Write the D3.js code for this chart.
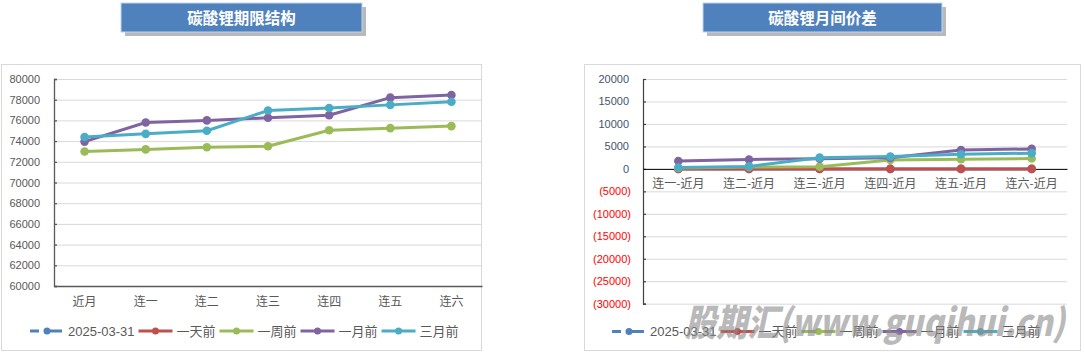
<!DOCTYPE html>
<html>
<head>
<meta charset="utf-8">
<script src="https://cdn.jsdelivr.net/npm/d3@7"></script>
<style>
  body { margin: 0; background: #fff; }
  svg text { font-family: "Liberation Sans", "Noto Sans CJK SC", sans-serif; }
</style>
</head>
<body>
<div id="my_dataviz"></div>
<script>
// data
const seriesNames = ["2025-03-31", "一天前", "一周前", "一月前", "三月前"];
const seriesColors = ["#4F81BD", "#C0504D", "#9BBB59", "#8064A2", "#4BACC6"];

// left chart: term structure
const termCats = ["近月", "连一", "连二", "连三", "连四", "连五", "连六"];
const termToday = [null, null, null, null, null, null, null];
const termDay = [null, null, null, null, null, null, null];
const termWeek = [73000, 73200, 73400, 73500, 75050, 75250, 75450];
const termMonth = [73950, 75800, 76000, 76250, 76500, 78200, 78450];
const termQuarter = [74400, 74700, 75000, 76950, 77200, 77500, 77800];
const termTicks = [60000, 62000, 64000, 66000, 68000, 70000, 72000, 74000, 76000, 78000, 80000];

// right chart: spreads vs near month
const spreadCats = ["连一-近月", "连二-近月", "连三-近月", "连四-近月", "连五-近月", "连六-近月"];
const spreadToday = [0, 0, 0, 0, 0, 0];
const spreadDay = [0, 0, 0, 0, 0, 0];
const spreadWeek = [200, 400, 500, 2000, 2150, 2300];
const spreadMonth = [1750, 2100, 2250, 2500, 4200, 4450];
const spreadQuarter = [300, 550, 2500, 2750, 3250, 3500];
const spreadTicks = [-30000, -25000, -20000, -15000, -10000, -5000, 0, 5000, 10000, 15000, 20000];

const width = 1085, height = 354;

const svg = d3.select("#my_dataviz")
  .append("svg")
    .attr("width", width)
    .attr("height", height);

// title box with drop shadow
function titleBox(x, w, label) {
  const g = svg.append("g");
  g.append("rect")
    .attr("x", x + 4).attr("y", 7).attr("width", w).attr("height", 29)
    .attr("fill", "#7f7f7f").attr("opacity", 0.55);
  g.append("rect")
    .attr("x", x).attr("y", 3).attr("width", w).attr("height", 29)
    .attr("fill", "#4F81BD").attr("stroke", "#BDD7EE").attr("stroke-width", 1);
  g.append("text")
    .attr("x", x + w / 2).attr("y", 23.5)
    .attr("text-anchor", "middle")
    .style("font-family", "'Noto Sans CJK SC', sans-serif")
    .style("font-weight", "bold")
    .style("font-size", "15.5px")
    .style("fill", "#fff")
    .text(label);
}

function drawLegend(y, x0) {
  const lg = svg.append("g").attr("transform", `translate(${x0},${y})`);
  let cx = 0;
  seriesNames.forEach((name, i) => {
    const item = lg.append("g").attr("transform", `translate(${cx},0)`);
    if (i === 0) {
      item.append("line").attr("x1", 0).attr("x2", 9).attr("y1", 0).attr("y2", 0)
        .attr("stroke", seriesColors[i]).attr("stroke-width", 3);
      item.append("line").attr("x1", 14).attr("x2", 32).attr("y1", 0).attr("y2", 0)
        .attr("stroke", seriesColors[i]).attr("stroke-width", 3);
    } else {
      item.append("line").attr("x1", 0).attr("x2", 34).attr("y1", 0).attr("y2", 0)
        .attr("stroke", seriesColors[i]).attr("stroke-width", 3);
    }
    item.append("circle").attr("cx", 17).attr("cy", 0).attr("r", 3.5)
      .attr("fill", seriesColors[i]);
    const t = item.append("text")
      .attr("x", 38).attr("y", 4.5)
      .style("font-size", "13px")
      .style("fill", "#595959")
      .text(name);
    cx += 38 + t.node().getComputedTextLength() + 4;
  });
}

function drawSeries(g, x, y, cats, data) {
  const line = d3.line()
    .defined(d => d.v !== null)
    .x(d => x(d.c) + x.bandwidth() / 2)
    .y(d => y(d.v));
  data.forEach((vals, i) => {
    const pts = vals.map((v, j) => ({ c: cats[j], v: v }));
    g.append("path")
      .datum(pts)
      .attr("d", line)
      .attr("fill", "none")
      .attr("stroke", seriesColors[i])
      .attr("stroke-width", 3)
      .attr("stroke-linejoin", "round");
    g.selectAll(null)
      .data(pts.filter(d => d.v !== null))
      .join("circle")
        .attr("cx", d => x(d.c) + x.bandwidth() / 2)
        .attr("cy", d => y(d.v))
        .attr("r", 4.3)
        .attr("fill", seriesColors[i]);
  });
}

// ---------- left chart ----------
titleBox(121, 241, "碳酸锂期限结构");
svg.append("rect").attr("x", 1.5).attr("y", 64.5).attr("width", 480).attr("height", 286)
  .attr("fill", "none").attr("stroke", "#D9D9D9");

const xL = d3.scaleBand().domain(termCats).range([54, 482]);
const yL = d3.scaleLinear().domain([60000, 80000]).range([286, 79]);
const gL = svg.append("g");

gL.append("g")
  .call(d3.axisLeft(yL).tickValues(termTicks).tickSize(-(482 - 54)).tickFormat(""))
  .attr("transform", "translate(54,0)")
  .call(g => g.select(".domain").remove())
  .call(g => g.selectAll("line").attr("stroke", "#D9D9D9"));

gL.append("g")
  .attr("transform", "translate(54,0)")
  .call(d3.axisRight(yL).tickValues(termTicks).tickSize(3).tickFormat(""))
  .call(g => g.selectAll("line,path").attr("stroke", "#595959").attr("stroke-width", 1.3));

termTicks.forEach(t => {
  gL.append("text")
    .attr("x", 40).attr("y", yL(t) + 4)
    .attr("text-anchor", "end")
    .style("font-size", "11px").style("fill", "#595959")
    .text(t);
});

gL.append("g")
  .attr("transform", "translate(0,286)")
  .call(d3.axisBottom(xL).tickSize(0).tickPadding(11))
  .call(g => g.select(".domain").attr("stroke", "#595959").attr("stroke-width", 1.3))
  .call(g => g.selectAll("text").style("font-size", "12px").style("fill", "#595959")
    .style("font-family", "'Noto Sans CJK SC', sans-serif"));

drawSeries(gL, xL, yL, termCats, [termToday, termDay, termWeek, termMonth, termQuarter]);
drawLegend(331, 30);

// ---------- right chart ----------
titleBox(703, 239, "碳酸锂月间价差");
svg.append("rect").attr("x", 584.5).attr("y", 64.5).attr("width", 496).attr("height", 286)
  .attr("fill", "none").attr("stroke", "#D9D9D9");

const xR = d3.scaleBand().domain(spreadCats).range([643, 1067]);
const yR = d3.scaleLinear().domain([-30000, 20000]).range([303.7, 79]);
const gR = svg.append("g");

gR.append("g")
  .attr("transform", "translate(643,0)")
  .call(d3.axisLeft(yR).tickValues(spreadTicks).tickSize(-(1067 - 643)).tickFormat(""))
  .call(g => g.select(".domain").remove())
  .call(g => g.selectAll("line").attr("stroke", "#D9D9D9"));

gR.append("g")
  .attr("transform", "translate(643,0)")
  .call(d3.axisRight(yR).tickValues(spreadTicks).tickSize(3).tickFormat(""))
  .call(g => g.selectAll("line,path").attr("stroke", "#404040").attr("stroke-width", 1.2));

spreadTicks.forEach(t => {
  gR.append("text")
    .attr("x", t < 0 ? 631 : 629).attr("y", yR(t) + 4)
    .attr("text-anchor", "end")
    .style("font-size", "11px")
    .style("fill", t < 0 ? "#FF0000" : "#44546A")
    .text(t < 0 ? `(${-t})` : t);
});

gR.append("g")
  .attr("transform", `translate(0,${yR(0)})`)
  .call(d3.axisBottom(xR).tickSize(0).tickPadding(11))
  .call(g => g.select(".domain").attr("stroke", "#000").attr("stroke-width", 1))
  .call(g => g.selectAll("text").style("font-size", "12px").style("fill", "#595959")
    .style("font-family", "'Noto Sans CJK SC', sans-serif"));

drawSeries(gR, xR, yR, spreadCats, [spreadToday, spreadDay, spreadWeek, spreadMonth, spreadQuarter]);
drawLegend(331.5, 612);

// watermark
svg.append("text")
  .attr("x", 685).attr("y", 336)
  .attr("textLength", 380).attr("lengthAdjust", "spacingAndGlyphs")
  .style("font-family", "'Noto Sans CJK SC', sans-serif")
  .style("font-size", "37px").style("font-weight", "900").style("font-style", "italic")
  .style("fill", "#8c8c8c").style("opacity", 0.6)
  .text("股期汇(www.guqihui.cn)");
</script>
</body>
</html>
